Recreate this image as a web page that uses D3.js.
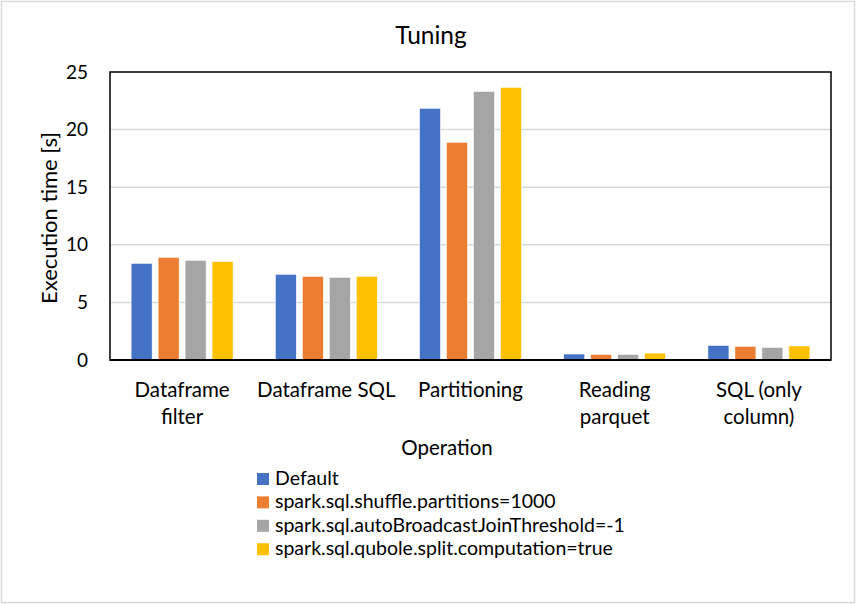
<!DOCTYPE html>
<html>
<head>
<meta charset="utf-8">
<script src="https://cdn.jsdelivr.net/npm/d3@7"></script>
<style>
  html, body { margin: 0; padding: 0; background: #fff; }
  svg { display: block; font-family: Lato, "Open Sans", sans-serif; }
</style>
</head>
<body>
<svg id="chart" width="856" height="604"></svg>
<script>
const categories = ["Dataframe filter", "Dataframe SQL", "Partitioning", "Reading parquet", "SQL (only column)"];
const categoryLabels = [["Dataframe", "filter"], ["Dataframe SQL"], ["Partitioning"], ["Reading", "parquet"], ["SQL (only", "column)"]];
const seriesNames = ["Default", "spark.sql.shuffle.partitions=1000", "spark.sql.autoBroadcastJoinThreshold=-1", "spark.sql.qubole.split.computation=true"];
const seriesColors = ["#4472C4", "#ED7D31", "#A5A5A5", "#FFC000"];
const defaultVals   = [8.39, 7.44, 21.85, 0.52, 1.27];
const shuffleVals   = [8.91, 7.26, 18.90, 0.49, 1.19];
const broadcastVals = [8.65, 7.18, 23.32, 0.49, 1.10];
const quboleVals    = [8.56, 7.26, 23.67, 0.60, 1.22];
const yTicks = [0, 5, 10, 15, 20, 25];
const seriesValues = [defaultVals, shuffleVals, broadcastVals, quboleVals];

const svg = d3.select("#chart");
const W = 856, H = 604;
const plot = { left: 110, right: 831, top: 72, bottom: 360 };

// outer chart border
svg.append("rect").attr("x", 1.5).attr("y", 1.5).attr("width", W - 3).attr("height", H - 3)
  .attr("fill", "#fff").attr("stroke", "#d9d9d9").attr("stroke-width", 1.5);

const x0 = d3.scaleBand().domain(categories).range([plot.left, plot.right]).paddingInner(0).paddingOuter(0);
const groupW = 102;
const x1 = d3.scaleBand().domain(d3.range(seriesNames.length))
  .range([(x0.bandwidth() - groupW) / 2, (x0.bandwidth() + groupW) / 2]).paddingInner(0.22).paddingOuter(0);
const y = d3.scaleLinear().domain([0, 25]).range([plot.bottom, plot.top]);

// gridlines
svg.append("g").selectAll("line").data(yTicks.filter(t => t > 0 && t < 25)).join("line")
  .attr("x1", plot.left).attr("x2", plot.right)
  .attr("y1", d => y(d)).attr("y2", d => y(d))
  .attr("stroke", "#d9d9d9").attr("stroke-width", 1.5);

// y axis tick labels
const yAxis = d3.axisLeft(y).tickValues(yTicks).tickSize(0).tickPadding(22);
const gy = svg.append("g").attr("transform", `translate(${plot.left},0)`).call(yAxis);
gy.select(".domain").remove();
gy.selectAll("text").attr("font-size", 19).attr("fill", "#000").attr("font-family", "Lato, sans-serif");

// bars
const rows = categories.map((c, i) => ({ cat: c, vals: seriesValues.map(s => s[i]) }));
const groups = svg.append("g").selectAll("g").data(rows).join("g")
  .attr("transform", d => `translate(${x0(d.cat)},0)`);
groups.selectAll("rect").data(d => d.vals.map((v, k) => ({ v, k }))).join("rect")
  .attr("x", d => x1(d.k)).attr("width", x1.bandwidth())
  .attr("y", d => y(d.v)).attr("height", d => y(0) - y(d.v))
  .attr("fill", d => seriesColors[d.k])
  .attr("stroke", "#fff").attr("stroke-width", 0.6);

// plot frame
svg.append("rect").attr("x", plot.left).attr("y", plot.top)
  .attr("width", plot.right - plot.left).attr("height", plot.bottom - plot.top)
  .attr("fill", "none").attr("stroke", "#000").attr("stroke-width", 1.5);
svg.append("line").attr("x1", plot.left).attr("x2", plot.right)
  .attr("y1", y(0)).attr("y2", y(0)).attr("stroke", "#000").attr("stroke-width", 2.2);

// x category labels
const xl = svg.append("g").selectAll("text").data(categories).join("text")
  .attr("text-anchor", "middle").attr("font-size", 20.5).attr("fill", "#000")
  .attr("x", d => x0(d) + x0.bandwidth() / 2).attr("y", 397);
xl.each(function (d, i) {
  const t = d3.select(this);
  categoryLabels[i].forEach((line, j) => {
    t.append("tspan").attr("x", x0(d) + x0.bandwidth() / 2).attr("dy", j === 0 ? 0 : 27).text(line);
  });
});

// titles
svg.append("text").attr("x", 431).attr("y", 44).attr("text-anchor", "middle")
  .attr("font-size", 24.5).attr("fill", "#000").text("Tuning");
svg.append("text").attr("x", 447).attr("y", 455).attr("text-anchor", "middle")
  .attr("font-size", 20.5).attr("fill", "#000").text("Operation");
svg.append("text").attr("transform", "translate(57,218) rotate(-90)").attr("text-anchor", "middle")
  .attr("font-size", 22).attr("fill", "#000").text("Execution time [s]");

// legend
const leg = svg.append("g").selectAll("g").data(seriesNames).join("g")
  .attr("transform", (d, i) => `translate(257,${485 + i * 23.4})`);
leg.append("rect").attr("x", 0).attr("y", -12).attr("width", 12).attr("height", 12)
  .attr("fill", (d, i) => seriesColors[i]);
leg.append("text").attr("x", 18).attr("y", 0).attr("font-size", 19.5).attr("fill", "#000").text(d => d);
</script>
</body>
</html>
